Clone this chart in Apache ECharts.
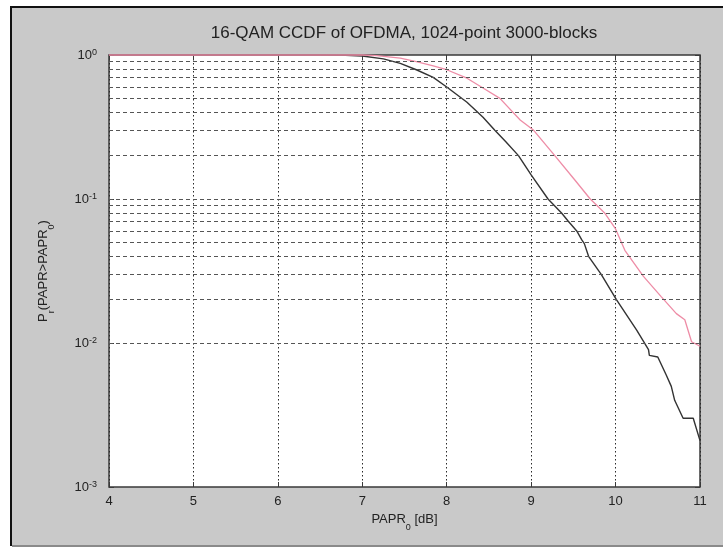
<!DOCTYPE html>
<html><head><meta charset="utf-8">
<script src="https://cdn.jsdelivr.net/npm/echarts@6/dist/echarts.min.js"></script>
<style>html,body{margin:0;padding:0;background:#fff}#c{width:723px;height:550px}</style>
</head><body><div id="c"></div>
<script>
const titleText = '16-QAM CCDF of OFDMA, 1024-point 3000-blocks';
const xMin = 4, xMax = 11, xStep = 1;
const yMin = 0.001, yMax = 1;

// black curve (lower)
const blackX = [4, 6.5, 6.8, 7.0, 7.25, 7.45, 7.64, 7.84, 8.0, 8.24, 8.43, 8.57, 8.7, 8.85, 9.0, 9.2, 9.36, 9.44, 9.54, 9.6, 9.63, 9.68, 9.83, 10.01, 10.25, 10.39, 10.4, 10.5, 10.6, 10.66, 10.7, 10.8, 10.92, 11.0];
const blackY = [1, 1, 0.997, 0.985, 0.94, 0.875, 0.79, 0.70, 0.60, 0.47, 0.37, 0.30, 0.25, 0.20, 0.147, 0.10, 0.08, 0.07, 0.06, 0.052, 0.049, 0.04, 0.03, 0.02, 0.0123, 0.009, 0.0082, 0.008, 0.006, 0.005, 0.004, 0.003, 0.003, 0.0021];

// pink curve (upper)
const pinkX = [4, 7.0, 7.17, 7.45, 7.64, 7.84, 8.0, 8.24, 8.43, 8.63, 8.87, 9.03, 9.28, 9.52, 9.7, 9.78, 9.87, 10.0, 10.11, 10.33, 10.54, 10.72, 10.82, 10.9, 11.0];
const pinkY = [1, 1, 0.99, 0.95, 0.90, 0.84, 0.79, 0.69, 0.59, 0.50, 0.354, 0.30, 0.20, 0.135, 0.10, 0.09, 0.08, 0.062, 0.044, 0.029, 0.021, 0.016, 0.0145, 0.0102, 0.0095];

// horizontal grid rows (log minor grid)
const hGridValues = [0.9,0.8,0.7,0.6,0.5,0.4,0.3,0.2,0.1,0.09,0.08,0.07,0.06,0.05,0.04,0.03,0.02,0.01,0.009,0.008,0.007,0.006,0.005,0.004,0.003,0.002];

const FONT = 'Liberation Sans, Arial, sans-serif';
const toPairs = (xs, ys) => xs.map((x, i) => [x, ys[i]]);

const chart = echarts.init(document.getElementById('c'), null, {renderer: 'canvas'});
const axisColor = '#3a3a3a';

const option = {
  backgroundColor: '#ffffff',
  animation: false,
  graphic: [
    {type: 'rect', z: -10, shape: {x: 12, y: 8, width: 711, height: 537}, style: {fill: '#c9c9c9'}},
    {type: 'rect', z: -9, shape: {x: 10, y: 6, width: 713, height: 2}, style: {fill: '#111'}},
    {type: 'rect', z: -9, shape: {x: 10, y: 6, width: 2, height: 540}, style: {fill: '#111'}},
    {type: 'rect', z: -9, shape: {x: 12, y: 545, width: 711, height: 2}, style: {fill: '#8a8a8a'}},
    {type: 'text', z: 5, x: 404, y: 33, style: {text: titleText, fontSize: 17, fontFamily: FONT, fill: '#222', align: 'center', verticalAlign: 'middle'}}
  ],
  grid: {left: 109, right: 23, top: 55, bottom: 63, show: true, backgroundColor: '#ffffff', borderColor: axisColor, borderWidth: 1.5, containLabel: false},
  xAxis: [{
    type: 'value', min: xMin, max: xMax, interval: xStep, position: 'bottom',
    axisLine: {show: false},
    axisTick: {show: true, inside: true, length: 5, lineStyle: {color: axisColor, width: 1}},
    axisLabel: {color: '#222', fontSize: 13, fontFamily: FONT, margin: 8},
    splitLine: {show: true, lineStyle: {color: '#2a2a2a', type: [1.5, 2.5], width: 1}},
    name: '{a|PAPR}{sub|0}{a| [dB]}', nameLocation: 'middle', nameGap: 26,
    nameTextStyle: {rich: {
      a: {fontSize: 13, fontFamily: FONT, color: '#222', lineHeight: 16, verticalAlign: 'top'},
      sub: {fontSize: 9, fontFamily: FONT, color: '#222', lineHeight: 9, padding: [10, 0, 0, 0], verticalAlign: 'top'}
    }}
  }, {
    type: 'value', min: xMin, max: xMax, interval: xStep, position: 'top',
    axisLine: {show: false},
    axisTick: {show: true, inside: true, length: 5, lineStyle: {color: axisColor, width: 1}},
    axisLabel: {show: false}, splitLine: {show: false}
  }],
  yAxis: [{
    type: 'log', logBase: 10, min: yMin, max: yMax, position: 'left',
    axisLine: {show: false},
    axisTick: {show: true, inside: true, length: 5, lineStyle: {color: axisColor, width: 1}},
    axisLabel: {
      margin: 12, color: '#222',
      formatter: v => '{b|10}{s|' + Math.round(Math.log10(v)) + '}',
      rich: {
        b: {fontSize: 13, fontFamily: FONT, color: '#222', lineHeight: 14, verticalAlign: 'bottom'},
        s: {fontSize: 9, fontFamily: FONT, color: '#222', lineHeight: 9, padding: [0, 0, 8, 0], verticalAlign: 'top'}
      }
    },
    splitLine: {show: false},
    name: '{a|P}{sub|r}{a|(PAPR>PAPR}{sub|0}{a|)}', nameLocation: 'middle', nameGap: 56, nameRotate: 90,
    nameTextStyle: {rich: {
      a: {fontSize: 13, fontFamily: FONT, color: '#222', lineHeight: 16, verticalAlign: 'top'},
      sub: {fontSize: 9, fontFamily: FONT, color: '#222', lineHeight: 9, padding: [10, 0, 0, 0], verticalAlign: 'top'}
    }}
  }, {
    type: 'log', logBase: 10, min: yMin, max: yMax, position: 'right',
    axisLine: {show: false},
    axisTick: {show: true, inside: true, length: 5, lineStyle: {color: axisColor, width: 1}},
    axisLabel: {show: false}, splitLine: {show: false}
  }],
  series: [
    {
      type: 'line', data: [], silent: true, z: 1,
      markLine: {
        silent: true, symbol: 'none', animation: false,
        label: {show: false},
        lineStyle: {color: '#555', type: [4, 3], width: 1},
        data: hGridValues.map(v => ({yAxis: v}))
      }
    },
    {
      type: 'line', name: 'black', data: toPairs(blackX, blackY), showSymbol: false, clip: false, z: 3,
      lineStyle: {color: '#333333', width: 1.4}
    },
    {
      type: 'line', name: 'pink', data: toPairs(pinkX, pinkY), showSymbol: false, clip: false, z: 4,
      lineStyle: {color: '#ee8ca6', width: 1.3}
    }
  ]
};
chart.setOption(option);
</script>
</body></html>
